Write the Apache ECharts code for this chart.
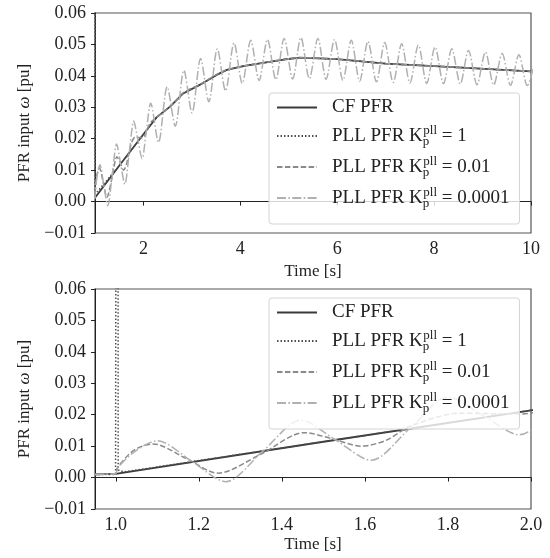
<!DOCTYPE html>
<html>
<head>
<meta charset="utf-8">
<script src="https://cdn.jsdelivr.net/npm/echarts@6/dist/echarts.min.js"></script>
<style>html,body{margin:0;padding:0;background:#fff}#c{width:550px;height:558px}</style>
</head>
<body>
<div id="c"></div>
<script>
// ---- data ----
const seriesNames = ['CF PFR', 'PLL PFR Kp=1', 'PLL PFR Kp=0.01', 'PLL PFR Kp=0.0001'];

const cfPFR = [[0.95,0.0010],[1.0,0.0012],[1.5,0.0114],[2.0,0.0214],[2.27,0.0268],[2.55,0.0302],[2.82,0.0344],[3.17,0.0372],[3.51,0.0403],[3.72,0.0419],[4.06,0.0431],[4.5,0.0442],[4.9,0.0452],[5.23,0.0458],[6.0,0.0453],[7.0,0.0439],[8.0,0.0431],[8.85,0.0424],[10.0,0.0414]];

const pllKp1 = [[0.95,0.0010],[0.9995,0.0010],[1.0005,0.09],[1.0055,0.09],[1.0058,0.0024],[1.02,0.0018],[1.5,0.0114],[2.0,0.0214],[2.27,0.0268],[2.55,0.0302],[2.82,0.0344],[3.17,0.0372],[3.51,0.0403],[3.72,0.0419],[4.06,0.0431],[4.5,0.0442],[4.9,0.0452],[5.23,0.0458],[6.0,0.0453],[7.0,0.0439],[8.0,0.0431],[8.85,0.0424],[10.0,0.0414]];

const pllKp001 = [[0.95,0.0010],[1.0,0.0012],[1.004,0.0032],[1.045,0.0088],[1.09,0.0107],[1.168,0.0062],[1.246,0.0014],[1.35,0.0075],[1.454,0.0143],[1.52,0.0124],[1.59,0.0100],[1.65,0.0118],[1.71,0.0164],[1.83,0.0205],[1.97,0.0202],[2.15,0.0252],[2.32,0.0274],[2.5,0.0297],[2.67,0.0320],[2.82,0.0346],[3.17,0.0373],[3.51,0.0404],[3.72,0.0419],[4.06,0.0431],[4.5,0.0442],[4.9,0.0452],[5.23,0.0458],[6.0,0.0453],[7.0,0.0439],[8.0,0.0431],[8.85,0.0424],[10.0,0.0414]];

const pllKp00001 = [[0.95,0.0010],[1.0,0.0012],[1.004,0.0030],[1.045,0.0082],[1.10,0.0117],[1.183,0.0052],[1.265,-0.0013],[1.355,0.0085],[1.446,0.0183],[1.53,0.0119],[1.615,0.0055],[1.708,0.0156],[1.80,0.0256],[1.886,0.0196],[1.972,0.0136],[2.06,0.0225],[2.15,0.0313],[2.31,0.0188],[2.49,0.0365],[2.657,0.0240],[2.835,0.0418],[3.003,0.0282],[3.18,0.0455],[3.35,0.0318],[3.525,0.0486],[3.695,0.0352],[3.87,0.0505],[4.04,0.0376],[4.215,0.0513],[4.387,0.0385],[4.56,0.0516],[4.733,0.0388],[4.905,0.0519],[5.08,0.0390],[5.25,0.0522],[5.425,0.0391],[5.60,0.0519],[5.77,0.0389],[5.945,0.0516],[6.117,0.0386],[6.29,0.0513],[6.463,0.0383],[6.635,0.0510],[6.81,0.0381],[6.98,0.0506],[7.155,0.0379],[7.33,0.0502],[7.50,0.0377],[7.675,0.0498],[7.847,0.0376],[8.02,0.0492],[8.193,0.0375],[8.365,0.0486],[8.54,0.0374],[8.71,0.0481],[8.885,0.0372],[9.06,0.0476],[9.23,0.0371],[9.405,0.0471],[9.577,0.0370],[9.75,0.0467],[9.923,0.0369],[10.1,0.0462]];

const xTicksTop = [2, 4, 6, 8, 10];
const xTicksBottom = [1.0, 1.2, 1.4, 1.6, 1.8, 2.0];
const yTicks = [-0.01, 0.00, 0.01, 0.02, 0.03, 0.04, 0.05, 0.06];

// ---- chart ----
const FONT = 'Liberation Serif';
const TXT = '#222';
const chart = echarts.init(document.getElementById('c'), null, {renderer: 'canvas'});

const legendRich = {
  m: {fontFamily: FONT, fontSize: 19, color: TXT, lineHeight: 24},
  sub: {fontFamily: FONT, fontSize: 13, color: TXT, lineHeight: 12, verticalAlign: 'bottom', width: 0.5},
  sup: {fontFamily: FONT, fontSize: 13, color: TXT, lineHeight: 12, verticalAlign: 'top'}
};
const legendLabel = {
  'CF PFR': '{m|CF PFR}',
  'PLL PFR Kp=1': '{m|PLL PFR K}{sub|p}{sup|pll}{m| = 1}',
  'PLL PFR Kp=0.01': '{m|PLL PFR K}{sub|p}{sup|pll}{m| = 0.01}',
  'PLL PFR Kp=0.0001': '{m|PLL PFR K}{sub|p}{sup|pll}{m| = 0.0001}'
};

function fmtY(v) {
  const r = Math.round(v * 100) / 100;
  return (r < 0 ? '\u2212' : '') + Math.abs(r).toFixed(2);
}

function makeX(idx, min, max, ticks, fmt, gap) {
  return {
    type: 'value', gridIndex: idx, min: min, max: max,
    name: 'Time [s]', nameLocation: 'middle', nameGap: gap,
    nameTextStyle: {fontFamily: FONT, fontSize: 17, color: TXT},
    axisLine: {show: true, lineStyle: {color: '#222', width: 1}},
    axisTick: {show: true, length: 4, customValues: ticks, lineStyle: {color: '#222'}},
    axisLabel: {customValues: ticks, formatter: fmt, fontFamily: FONT, fontSize: 18, color: TXT, margin: 7},
    splitLine: {show: false}
  };
}
function makeY(idx) {
  return {
    type: 'value', gridIndex: idx, min: -0.01, max: 0.06,
    name: 'PFR input {i|\u03c9} [pu]', nameLocation: 'middle', nameGap: 62, nameRotate: 90,
    nameTextStyle: {fontFamily: FONT, fontSize: 17, color: TXT,
      rich: {i: {fontFamily: FONT, fontSize: 17, color: TXT, fontStyle: 'italic'}}},
    axisLine: {show: true, lineStyle: {color: '#222', width: 1}},
    axisTick: {show: true, length: 4, customValues: yTicks, lineStyle: {color: '#222'}},
    axisLabel: {customValues: yTicks, formatter: fmtY, fontFamily: FONT, fontSize: 18, color: TXT, margin: 9},
    splitLine: {show: false}
  };
}

const styles = [
  {color: '#3a3a3a', width: 1.8, type: 'solid', smooth: false},
  {color: '#505050', width: 1.5, type: [1.5, 2.0], smooth: false},
  {color: '#8a8a8a', width: 1.5, type: [5.5, 2.4], smooth: 0.3},
  {color: '#b0b0b0', width: 1.5, type: [9, 2.4, 1.5, 2.4], smooth: 0.3}
];
const datas = [cfPFR, pllKp1, pllKp001, pllKp00001];

const series = [];
[0, 1].forEach(function (g) {
  datas.forEach(function (d, i) {
    series.push({
      type: 'line', name: seriesNames[i], xAxisIndex: g, yAxisIndex: g,
      data: d, symbol: 'none', smooth: styles[i].smooth, clip: true,
      lineStyle: {color: styles[i].color, width: styles[i].width, type: styles[i].type},
      itemStyle: {color: styles[i].color},
      emphasis: {disabled: true}, animation: false, z: i === 0 ? 2 : 3
    });
  });
});

function makeLegend(top) {
  return {
    orient: 'vertical', left: 269, top: top, width: 253,
    data: seriesNames, itemWidth: 40, itemHeight: 14, itemGap: 7,
    padding: [5, 10, 14, 7],
    backgroundColor: 'rgba(255,255,255,0.8)', borderColor: '#d4d4d4', borderWidth: 1, borderRadius: 3,
    selectedMode: false,
    itemStyle: {opacity: 0},
    formatter: function (n) { return legendLabel[n]; },
    textStyle: {fontFamily: FONT, fontSize: 19, color: TXT, padding: [0, 0, 0, 10], rich: legendRich}
  };
}

chart.setOption({
  animation: false,
  backgroundColor: '#fff',
  grid: [
    {left: 95, top: 13, width: 436, height: 220, show: true, borderColor: '#555', borderWidth: 1.2, backgroundColor: 'transparent'},
    {left: 95, top: 289, width: 436, height: 220, show: true, borderColor: '#555', borderWidth: 1.2, backgroundColor: 'transparent'}
  ],
  xAxis: [
    makeX(0, 1, 10, xTicksTop, function (v) { return String(Math.round(v)); }, 30),
    makeX(1, 0.95, 2.0, xTicksBottom, function (v) { return (Math.round(v * 10) / 10).toFixed(1); }, 27)
  ],
  yAxis: [makeY(0), makeY(1)],
  legend: [makeLegend(93), makeLegend(298)],
  series: series
});
</script>
</body>
</html>
